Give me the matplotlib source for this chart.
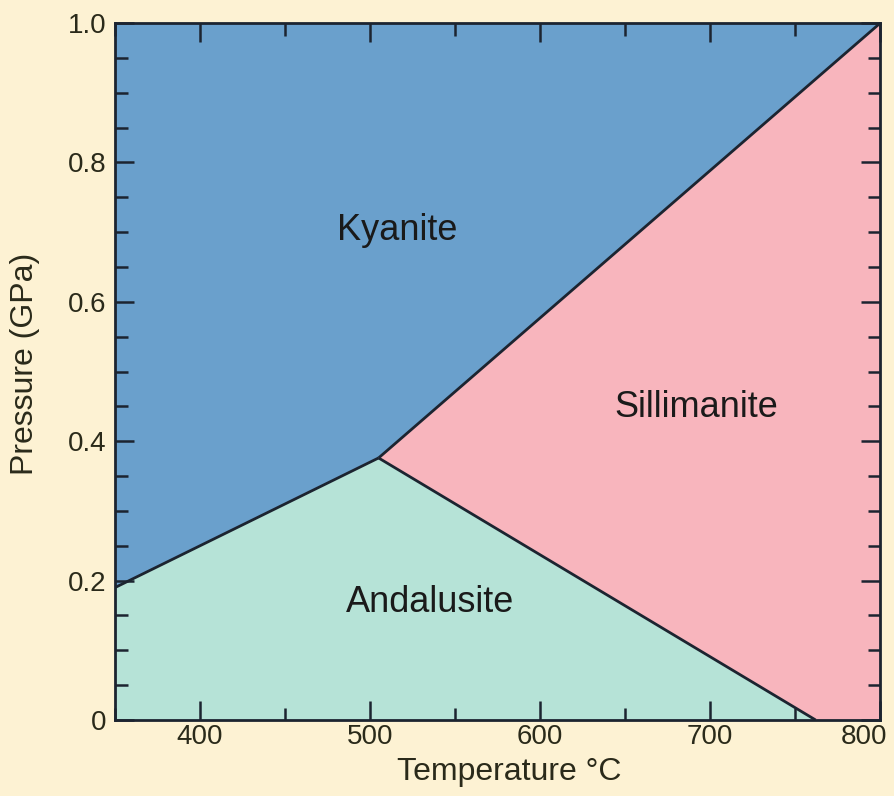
'''
Al2SiO5 phase diagram (kyanite / andalusite / sillimanite)
'''
import matplotlib.pyplot as plt
import matplotlib.transforms as mtransforms
from matplotlib.ticker import MultipleLocator

plt.rcParams['font.family'] = ['Liberation Sans', 'DejaVu Sans']

# phase boundaries (T in deg C, P in GPa)
ky_and_T = [350, 505]
ky_and_P = [0.19, 0.376]
ky_sil_T = [505, 800]
ky_sil_P = [0.376, 1.0]
and_sil_T = [505, 762]
and_sil_P = [0.376, 0.0]

# region labels (baseline positions)
phase_names = ['Kyanite', 'Sillimanite', 'Andalusite']
label_T = [516, 692, 535]
label_P = [0.689, 0.435, 0.155]

x_ticks = [400, 500, 600, 700, 800]
y_ticks = [0, 0.2, 0.4, 0.6, 0.8, 1.0]
y_ticklabels = ['0', '0.2', '0.4', '0.6', '0.8', '1.0']

bg = '#fdf2d3'
col_ky = '#6aa0cc'
col_sil = '#f8b5bd'
col_and = '#b6e3d7'
ink = '#1c2430'
txt = '#2a2a1a'

fig = plt.figure(figsize=(8.95, 7.96), dpi=100, facecolor=bg)
ax = fig.add_axes([0.1285, 0.0955, 0.855, 0.8755])
ax.set_xlim(350, 800)
ax.set_ylim(0, 1.0)

# fill the three stability fields
ax.fill([350] + ky_sil_T + [350], [ky_and_P[0]] + ky_sil_P + [1.0],
        color=col_ky, lw=0)
ax.fill(ky_sil_T + [800, and_sil_T[1]], ky_sil_P + [0.0, 0.0],
        color=col_sil, lw=0)
ax.fill(ky_and_T + and_sil_T[1:] + [350], ky_and_P + and_sil_P[1:] + [0.0],
        color=col_and, lw=0)

# boundary lines
for T, P in [(ky_and_T, ky_and_P), (ky_sil_T, ky_sil_P), (and_sil_T, and_sil_P)]:
    ax.plot(T, P, color=ink, lw=2, solid_capstyle='butt')

for name, t, p in zip(phase_names, label_T, label_P):
    ax.text(t, p, name, fontsize=26, color='#1a1a1a', ha='center', va='baseline')

ax.set_xticks(x_ticks)
ax.xaxis.set_minor_locator(MultipleLocator(50))
ax.set_yticks(y_ticks)
ax.set_yticklabels(y_ticklabels)
ax.yaxis.set_minor_locator(MultipleLocator(0.05))
ax.tick_params(which='both', direction='in', top=True, right=True,
               color=ink, labelsize=20, labelcolor=txt, width=1.8)
ax.tick_params(which='major', length=14)
ax.tick_params(which='minor', length=9)
ax.tick_params(axis='x', pad=3)
ax.tick_params(axis='y', pad=6)

# keep the last x label inside the figure, like the original
last = ax.get_xticklabels()[-1]
last.set_transform(last.get_transform() +
                   mtransforms.ScaledTranslation(-0.16, 0, fig.dpi_scale_trans))

for s in ax.spines.values():
    s.set_linewidth(2)
    s.set_color(ink)

ax.set_xlabel('Temperature \u00b0C', fontsize=23, color=txt)
ax.xaxis.set_label_coords(0.515, -0.053)
ax.set_ylabel('Pressure (GPa)', fontsize=23, color=txt)
ax.yaxis.set_label_coords(-0.098, 0.511)

plt.savefig('out.png', dpi=100, facecolor=bg)
